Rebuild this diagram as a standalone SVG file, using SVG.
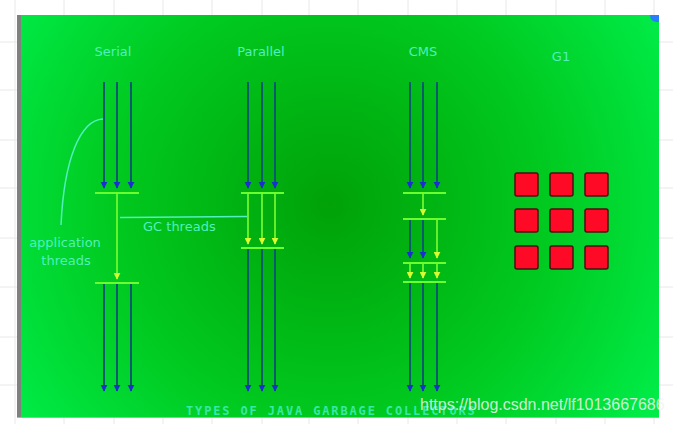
<svg xmlns="http://www.w3.org/2000/svg" width="673" height="424" viewBox="0 0 673 424">
<defs>
<radialGradient id="bg" cx="330" cy="205" r="380" gradientUnits="userSpaceOnUse">
<stop offset="0" stop-color="#00a208"/>
<stop offset="0.55" stop-color="#00c81e"/>
<stop offset="1" stop-color="#00ec48"/>
</radialGradient>
<marker id="ab" viewBox="0 0 10 10" refX="9" refY="5" markerWidth="7" markerHeight="8" markerUnits="userSpaceOnUse" orient="auto">
<path d="M0,0 L10,5 L0,10 z" fill="#1a2fd0"/>
</marker>
<marker id="ag" viewBox="0 0 10 10" refX="9" refY="5" markerWidth="7" markerHeight="7" markerUnits="userSpaceOnUse" orient="auto">
<path d="M0,0 L10,5 L0,10 z" fill="#d8ff30"/>
</marker>
<style>
.grid{stroke:#e8e8e8;stroke-width:1}
.app{stroke:#0b5c6a;stroke-width:2;fill:none;marker-end:url(#ab)}
.gc{stroke:#7cff30;stroke-width:1.6;fill:none;marker-end:url(#ag)}
.bar{stroke:#6cff30;stroke-width:2}
.lbl{fill:#52f0bc;font-family:"DejaVu Sans","Liberation Sans",sans-serif;font-size:13px}
.ttl{fill:#52f0bc;font-family:"DejaVu Sans","Liberation Sans",sans-serif;font-size:13px;text-anchor:middle}
.cur{stroke:#52f0bc;stroke-width:1.5;fill:none}
.sq{fill:#ff0a26;stroke:#4a1010;stroke-width:1.5}
</style>
</defs>
<rect width="673" height="424" fill="#ffffff"/>
<g id="grid">
<path class="grid" d="M15,0V424M64,0V424M114,0V424M163,0V424M212,0V424M262,0V424M309,0V424M358,0V424M408,0V424M457,0V424M506,0V424M556,0V424M605,0V424M654,0V424M0,42H673M0,90H673M0,140H673M0,188H673M0,238H673M0,287H673M0,337H673M0,385H673"/>
</g>
<g id="panel">
<rect x="17" y="15" width="642" height="402" fill="url(#bg)"/>
<rect x="17" y="15" width="4" height="402" fill="#808080"/>
<path d="M650,15 L659,15 L659,22 L656,22 Q650,21 650,15z" fill="#2a7cff"/>
<line x1="17" y1="417.5" x2="659" y2="417.5" stroke="#30e8e0" stroke-width="1"/>
</g>
<g id="connectors">
<line class="app" x1="104" y1="82" x2="104" y2="188"/>
<line class="app" x1="117" y1="82" x2="117" y2="188"/>
<line class="app" x1="131" y1="82" x2="131" y2="188"/>
<line class="gc" x1="117" y1="193" x2="117" y2="279"/>
<line class="app" x1="104" y1="283" x2="104" y2="391"/>
<line class="app" x1="117" y1="283" x2="117" y2="391"/>
<line class="app" x1="131" y1="283" x2="131" y2="391"/>

<line class="app" x1="248" y1="82" x2="248" y2="188"/>
<line class="app" x1="262" y1="82" x2="262" y2="188"/>
<line class="app" x1="275" y1="82" x2="275" y2="188"/>
<line class="gc" x1="248" y1="193" x2="248" y2="244"/>
<line class="gc" x1="262" y1="193" x2="262" y2="244"/>
<line class="gc" x1="275" y1="193" x2="275" y2="244"/>
<line class="app" x1="248" y1="248" x2="248" y2="391"/>
<line class="app" x1="262" y1="248" x2="262" y2="391"/>
<line class="app" x1="275" y1="248" x2="275" y2="391"/>

<line class="app" x1="410" y1="82" x2="410" y2="188"/>
<line class="app" x1="423" y1="82" x2="423" y2="188"/>
<line class="app" x1="437" y1="82" x2="437" y2="188"/>
<line class="gc" x1="423" y1="193" x2="423" y2="215"/>
<line class="app" x1="410" y1="219" x2="410" y2="258"/>
<line class="app" x1="423" y1="219" x2="423" y2="258"/>
<line class="gc" x1="437" y1="219" x2="437" y2="258"/>
<line class="gc" x1="410" y1="263" x2="410" y2="278"/>
<line class="gc" x1="423" y1="263" x2="423" y2="278"/>
<line class="gc" x1="437" y1="263" x2="437" y2="278"/>
<line class="app" x1="410" y1="282" x2="410" y2="391"/>
<line class="app" x1="423" y1="282" x2="423" y2="391"/>
<line class="app" x1="437" y1="282" x2="437" y2="391"/>

<path class="cur" d="M120,217.5 L247,216.5"/>
<path class="cur" d="M103,119 C80,120 64,160 61,225"/>
</g>
<g id="serial">
<text class="ttl" x="113" y="56">Serial</text>
<line class="bar" x1="95" y1="193" x2="139" y2="193"/>
<line class="bar" x1="95" y1="283" x2="139" y2="283"/>
</g>
<g id="parallel">
<text class="ttl" x="261" y="56">Parallel</text>
<line class="bar" x1="241" y1="193" x2="284" y2="193"/>
<line class="bar" x1="241" y1="248" x2="284" y2="248"/>
</g>
<g id="cms">
<text class="ttl" x="423" y="56">CMS</text>
<line class="bar" x1="403" y1="193" x2="446" y2="193"/>
<line class="bar" x1="403" y1="219" x2="446" y2="219"/>
<line class="bar" x1="403" y1="263" x2="446" y2="263"/>
<line class="bar" x1="403" y1="282" x2="446" y2="282"/>
</g>
<g id="g1">
<text class="ttl" x="561" y="61">G1</text>
<rect class="sq" x="515" y="173" width="23" height="23" rx="2"/>
<rect class="sq" x="550" y="173" width="23" height="23" rx="2"/>
<rect class="sq" x="585" y="173" width="23" height="23" rx="2"/>
<rect class="sq" x="515" y="209" width="23" height="23" rx="2"/>
<rect class="sq" x="550" y="209" width="23" height="23" rx="2"/>
<rect class="sq" x="585" y="209" width="23" height="23" rx="2"/>
<rect class="sq" x="515" y="246" width="23" height="23" rx="2"/>
<rect class="sq" x="550" y="246" width="23" height="23" rx="2"/>
<rect class="sq" x="585" y="246" width="23" height="23" rx="2"/>
</g>
<g id="labels">
<text class="lbl" x="143" y="231">GC threads</text>
<text class="lbl" x="65" y="247" text-anchor="middle">application</text>
<text class="lbl" x="66" y="265" text-anchor="middle">threads</text>
</g>
<g id="title">
<text x="186" y="415" fill="#38e8a8" font-family="DejaVu Sans Mono, Liberation Mono, monospace" font-size="12" font-weight="bold" letter-spacing="2.2" textLength="291" lengthAdjust="spacing">TYPES OF JAVA GARBAGE COLLECTORS</text>
<text x="420" y="410" fill="#f0f4f0" fill-opacity="0.85" font-family="Liberation Sans, Arial, sans-serif" font-size="16">https://blog.csdn.net/lf1013667686</text>
</g>
</svg>
